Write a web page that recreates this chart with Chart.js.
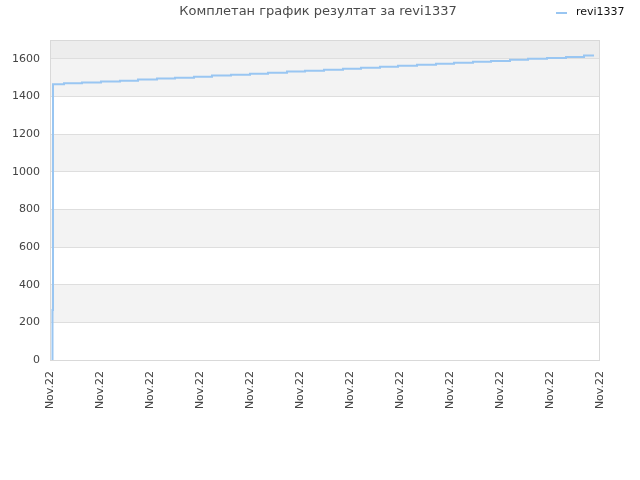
<!DOCTYPE html>
<html>
<head>
<meta charset="utf-8">
<script src="https://cdn.jsdelivr.net/npm/chart.js@4/dist/chart.umd.min.js"></script>
<style>
  html, body { margin: 0; padding: 0; background: #fff; }
  #wrap { width: 640px; height: 480px; }
</style>
</head>
<body>
<div id="wrap"><canvas id="chartResultati"></canvas></div>
<script>
const chartTitle = 'Комплетан график резултат за revi1337';
const seriesName = 'revi1337';
const xLabels = ['Nov.22', 'Nov.22', 'Nov.22', 'Nov.22', 'Nov.22', 'Nov.22',
                 'Nov.22', 'Nov.22', 'Nov.22', 'Nov.22', 'Nov.22', 'Nov.22'];
// vreme (u jedinicama oznaka na x osi) i rezultat
const times = [0.04, 0.05, 0.06, 0.28, 0.64, 1.02, 1.40, 1.76, 2.14, 2.50, 2.88, 3.24,
               3.62, 4.00, 4.36, 4.74, 5.10, 5.48, 5.86, 6.22, 6.60, 6.96, 7.34, 7.72,
               8.08, 8.46, 8.82, 9.20, 9.56, 9.94, 10.32, 10.68, 10.88];
const scores = [0, 265, 1465, 1470, 1474, 1479, 1484, 1490, 1495, 1500, 1505, 1511,
                1516, 1521, 1526, 1532, 1537, 1542, 1547, 1553, 1558, 1563, 1568, 1574,
                1579, 1584, 1589, 1595, 1600, 1605, 1610, 1617, 1617];
const yTicks = [0, 200, 400, 600, 800, 1000, 1200, 1400, 1600];

const lineColor = '#99c6f2';

// pozadinske trake i okvir
const bandsPlugin = {
    id: 'bands',
    beforeDraw(chart) {
        const { ctx, chartArea: a, scales: { y } } = chart;
        ctx.save();
        for (let i = 0; i < yTicks.length; i++) {
            const lo = yTicks[i];
            const hi = i + 1 < yTicks.length ? yTicks[i + 1] : y.max;
            let color = null;
            if (i === yTicks.length - 1) color = '#ededed';
            else if (i % 2 === 1) color = '#f3f3f3';
            if (!color) continue;
            const top = y.getPixelForValue(hi);
            const bottom = y.getPixelForValue(lo);
            ctx.fillStyle = color;
            ctx.fillRect(a.left, top, a.right - a.left, bottom - top);
        }
        ctx.restore();
    },
    afterDraw(chart) {
        const { ctx, chartArea: a } = chart;
        ctx.save();
        ctx.strokeStyle = '#d9d9d9';
        ctx.lineWidth = 1;
        ctx.strokeRect(a.left + 0.5, a.top + 0.5, a.right - a.left - 1, a.bottom - a.top);
        // naslov
        ctx.fillStyle = '#4a4a4a';
        ctx.font = '13px "DejaVu Sans", sans-serif';
        ctx.textAlign = 'center';
        ctx.textBaseline = 'middle';
        ctx.fillText(chartTitle, 318, 12);
        // legenda
        ctx.strokeStyle = lineColor;
        ctx.lineWidth = 2;
        ctx.beginPath();
        ctx.moveTo(556, 13);
        ctx.lineTo(567, 13);
        ctx.stroke();
        ctx.fillStyle = '#111';
        ctx.font = '11px "DejaVu Sans", sans-serif';
        ctx.textAlign = 'left';
        ctx.fillText(seriesName, 576, 12);
        ctx.restore();
    }
};

const ctxRes = document.getElementById('chartResultati').getContext('2d');
new Chart(ctxRes, {
    type: 'line',
    data: {
        datasets: [{
            label: seriesName,
            data: times.map((t, i) => ({ x: t, y: scores[i] })),
            borderColor: lineColor,
            borderWidth: 2,
            pointRadius: 0,
            stepped: true,
            fill: false,
        }]
    },
    options: {
        responsive: true,
        maintainAspectRatio: false,
        animation: false,
        layout: {
            padding: { top: 40, right: 40, left: 0, bottom: 0 }
        },
        plugins: {
            legend: { display: false },
            title: { display: false },
            tooltip: { enabled: false }
        },
        scales: {
            x: {
                type: 'linear',
                min: 0,
                max: xLabels.length - 1,
                afterFit(scale) { scale.height = 120; },
                grid: { display: false, drawTicks: false },
                border: { display: false },
                ticks: {
                    stepSize: 1,
                    autoSkip: false,
                    minRotation: 90,
                    maxRotation: 90,
                    padding: 11,
                    color: '#444',
                    font: { family: '"DejaVu Sans", sans-serif', size: 11 },
                    callback: (v) => xLabels[v]
                }
            },
            y: {
                min: 0,
                max: 1700,
                afterFit(scale) { scale.width = 50; },
                grid: { color: '#dedede', drawTicks: false },
                border: { display: false },
                ticks: {
                    stepSize: 200,
                    includeBounds: false,
                    padding: 10,
                    color: '#444',
                    font: { family: '"DejaVu Sans", sans-serif', size: 11 },
                    callback: (v) => String(v)
                }
            }
        }
    },
    plugins: [bandsPlugin]
});
</script>
</body>
</html>
